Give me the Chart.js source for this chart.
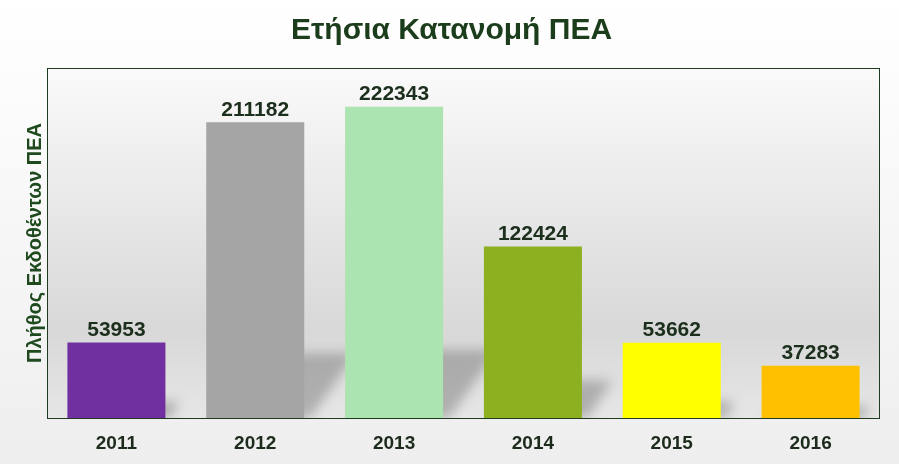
<!DOCTYPE html>
<html>
<head>
<meta charset="utf-8">
<script src="https://cdn.jsdelivr.net/npm/chart.js@4"></script>
<style>
  html, body { margin: 0; padding: 0; background: #fff; }
  #wrap { width: 899px; height: 464px; position: relative; }
</style>
</head>
<body>
<div id="wrap"><canvas id="chartPEA"></canvas></div>
<script>
// δεδομένα
const years = ["2011", "2012", "2013", "2014", "2015", "2016"];
const counts = [53953, 211182, 222343, 122424, 53662, 37283];
const barColors = ["#7030a0", "#a5a5a5", "#abe3b1", "#8cb01f", "#ffff00", "#ffc000"];

const fontFam = "'Liberation Sans', Arial, sans-serif";

// φόντο σελίδας και περιοχής σχεδίασης
const backgroundPlugin = {
    id: "bgPlugin",
    beforeDraw(chart) {
        const { ctx, width, height, chartArea: a } = chart;
        ctx.save();
        let g = ctx.createLinearGradient(0, 0, 0, height);
        g.addColorStop(0, "#ffffff");
        g.addColorStop(1, "#eeeeee");
        ctx.fillStyle = g;
        ctx.fillRect(0, 0, width, height);
        g = ctx.createLinearGradient(0, a.top, 0, a.bottom);
        g.addColorStop(0, "#fafafa");
        g.addColorStop(0.75, "#d8d8d8");
        g.addColorStop(1, "#e6e6e6");
        ctx.fillStyle = g;
        ctx.fillRect(a.left, a.top, a.right - a.left, a.bottom - a.top);
        ctx.restore();
    }
};

// σκιά πίσω από κάθε μπάρα
const shadowPlugin = {
    id: "shadowPlugin",
    beforeDatasetsDraw(chart) {
        const { ctx, chartArea: a } = chart;
        ctx.save();
        ctx.beginPath();
        ctx.rect(a.left, a.top, a.right - a.left, a.bottom - a.top);
        ctx.clip();
        ctx.filter = "blur(6px)";
        ctx.fillStyle = "rgba(90,90,90,0.38)";
        chart.getDatasetMeta(0).data.forEach(bar => {
            const w = bar.width;
            const h = (bar.base - bar.y) * 0.22;
            const off = h * 0.8;
            ctx.beginPath();
            ctx.moveTo(bar.x - w / 2 + 6, bar.base);
            ctx.lineTo(bar.x + w / 2 + 6, bar.base);
            ctx.lineTo(bar.x + w / 2 + off, bar.base - h);
            ctx.lineTo(bar.x - w / 2 + off, bar.base - h);
            ctx.closePath();
            ctx.fill();
        });
        ctx.restore();
    },
    afterDatasetsDraw(chart) {
        const { ctx, chartArea: a } = chart;
        ctx.save();
        // πλαίσιο
        ctx.strokeStyle = "#1f3a1f";
        ctx.lineWidth = 1;
        ctx.strokeRect(a.left + 0.5, a.top + 0.5, a.right - a.left - 1, a.bottom - a.top);
        // ετικέτες τιμών
        ctx.fillStyle = "#1c2e1c";
        ctx.font = "bold 21px " + fontFam;
        ctx.textAlign = "center";
        ctx.textBaseline = "bottom";
        chart.getDatasetMeta(0).data.forEach((bar, i) => {
            ctx.fillText(String(counts[i]), bar.x, bar.y - 2);
        });
        ctx.restore();
    }
};

new Chart(document.getElementById("chartPEA"), {
    type: "bar",
    data: {
        labels: years,
        datasets: [{
            label: "Πλήθος",
            data: counts,
            backgroundColor: barColors,
            borderWidth: 0,
            barPercentage: 0.706,
            categoryPercentage: 1
        }]
    },
    options: {
        responsive: true,
        maintainAspectRatio: false,
        animation: false,
        layout: { padding: { left: 23, right: 19, top: 0, bottom: 0 } },
        plugins: {
            legend: { display: false },
            tooltip: { enabled: false },
            title: {
                display: true,
                text: "Ετήσια Κατανομή ΠΕΑ",
                color: "#1b3d1b",
                font: { family: fontFam, size: 30, weight: "bold" },
                padding: { top: 13, bottom: 19 }
            }
        },
        scales: {
            x: {
                grid: { display: false },
                border: { display: false },
                ticks: {
                    color: "#1c2b1c",
                    font: { family: fontFam, size: 19, weight: "bold" },
                    padding: 6
                },
                afterFit(scale) { scale.height = 46; }
            },
            y: {
                min: 0,
                max: 250000,
                grid: { display: false },
                border: { display: false },
                ticks: { display: false },
                title: {
                    display: true,
                    text: "Πλήθος Εκδοθέντων ΠΕΑ",
                    color: "#1e4a1e",
                    font: { family: fontFam, size: 20, weight: "bold" },
                    padding: 0
                },
                afterFit(scale) { scale.width = 24; }
            }
        }
    },
    plugins: [backgroundPlugin, shadowPlugin]
});
</script>
</body>
</html>
